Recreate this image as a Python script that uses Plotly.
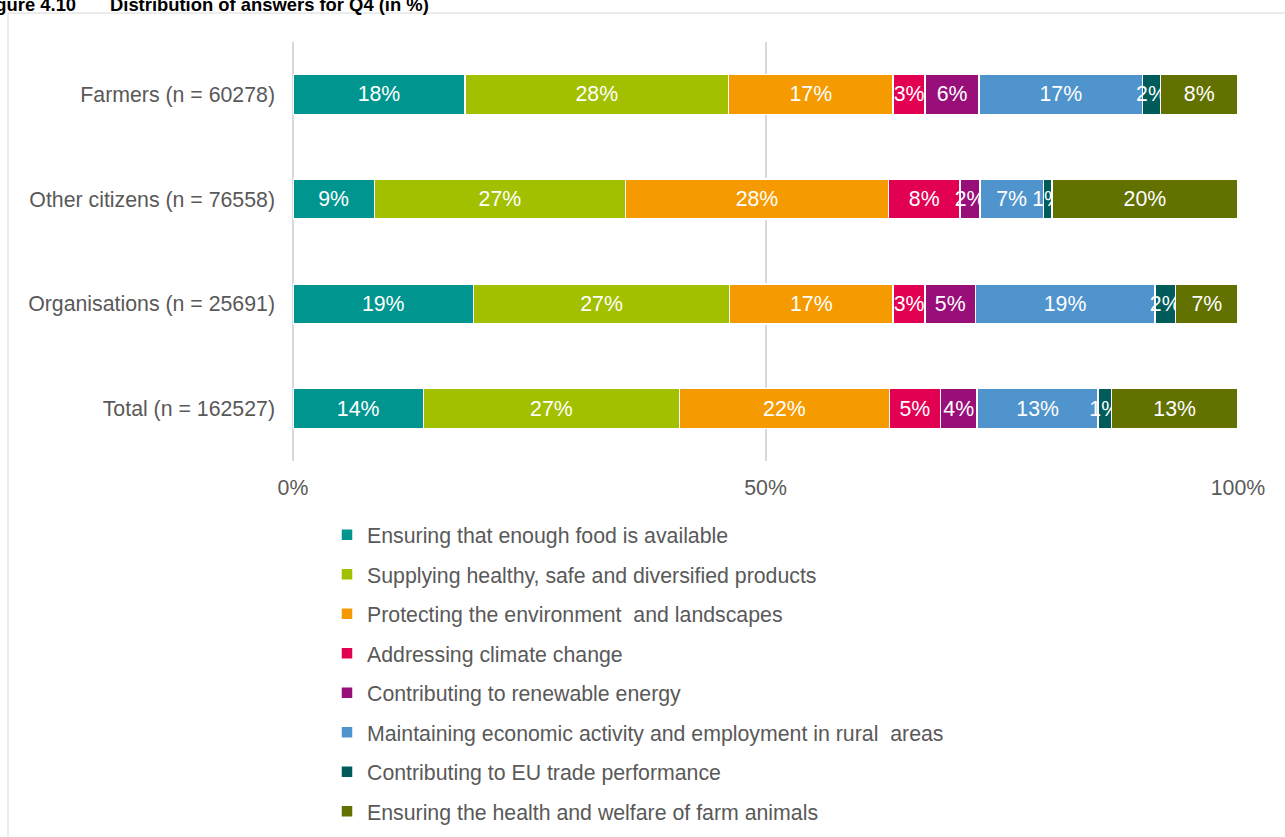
import plotly.graph_objects as go

# ─────────────────────────────────────────────────────────────────────────────
# DATA (share of answers, %)
# ─────────────────────────────────────────────────────────────────────────────

groups = [
    "Farmers (n = 60278)",
    "Other citizens (n = 76558)",
    "Organisations (n = 25691)",
    "Total (n = 162527)",
]

answers = [
    "Ensuring that enough food is available",
    "Supplying healthy, safe and diversified products",
    "Protecting the environment  and landscapes",
    "Addressing climate change",
    "Contributing to renewable energy",
    "Maintaining economic activity and employment in rural  areas",
    "Contributing to EU trade performance",
    "Ensuring the health and welfare of farm animals",
]

food_available  = [18.2, 8.6, 19.1, 13.8]
healthy_safe    = [27.9, 26.6, 27.1, 27.1]
environment     = [17.4, 27.8, 17.3, 22.2]
climate_change  = [3.4, 7.6, 3.4, 5.4]
renewable       = [5.7, 2.1, 5.3, 3.9]
rural_economy   = [17.3, 6.7, 19.0, 12.8]
eu_trade        = [1.9, 0.9, 2.2, 1.4]
animal_welfare  = [8.2, 19.7, 6.6, 13.4]

x_ticks = [0, 50, 100]
x_ticktext = ["0%", "50%", "100%"]

series = [food_available, healthy_safe, environment, climate_change,
          renewable, rural_economy, eu_trade, animal_welfare]

colors = ["#00968F", "#A2C000", "#F59A00", "#E20052",
          "#990F7A", "#4F94CC", "#005C5A", "#627100"]

FONT = "Liberation Sans, Arial, sans-serif"
GREY = "#595959"
FS = 21.3

# plot area in pixels (used only to place the frame / title / legend)
L, R, T, B = 293, 47, 42, 375.5
W, H = 1285, 837
pw, ph = W - L - R, H - T - B


def px_x(x):
    return (x - L) / pw


def px_y(y):
    return (H - B - y) / ph


fig = go.Figure()
for name, vals, col in zip(answers, series, colors):
    fig.add_trace(go.Bar(
        y=groups, x=vals, name=name, orientation="h",
        marker=dict(color=col, line=dict(color="white", width=1.5)),
        texttemplate="%{x:.0f}%", textposition="inside",
        insidetextanchor="middle", textangle=0, constraintext="none",
        textfont=dict(color="white", size=FS, family=FONT),
        legendgroup=name, width=0.38,
        hoverinfo="skip",
    ))

fig.update_layout(
    width=W, height=H,
    barmode="stack",
    plot_bgcolor="white", paper_bgcolor="white",
    margin=dict(l=L, r=R, t=T, b=B, autoexpand=False),
    font=dict(family=FONT, size=FS, color=GREY),
    showlegend=True,
    legend=dict(
        x=px_x(327), xanchor="left", y=px_y(515), yanchor="top",
        traceorder="grouped", tracegroupgap=8.8,
        font=dict(size=FS, color=GREY, family=FONT),
        bgcolor="rgba(0,0,0,0)",
    ),
    xaxis=dict(
        range=[0, 100], tickvals=x_ticks, ticktext=x_ticktext,
        showgrid=True, gridcolor="#D9D9D9", gridwidth=2,
        zeroline=True, zerolinecolor="#D9D9D9", zerolinewidth=2,
        showline=False, ticks="", ticklabelstandoff=12,
        tickfont=dict(size=FS, color=GREY),
    ),
    yaxis=dict(
        autorange="reversed", showgrid=False, zeroline=False,
        ticks="", ticklabelstandoff=17,
        tickfont=dict(size=FS, color=GREY),
    ),
)

# outer frame of the figure box
fig.add_shape(
    type="rect", xref="paper", yref="paper",
    x0=px_x(8), x1=px_x(1300), y0=px_y(13), y1=px_y(900),
    line=dict(color="#D9D9D9", width=1), layer="below",
)

# figure caption (cut off at top-left, as in the source)
fig.add_annotation(
    text="<b>Figure 4.10</b>", xref="paper", yref="paper",
    x=px_x(78), xanchor="right", y=px_y(4.3), yanchor="middle",
    showarrow=False, font=dict(size=18.4, color="black", family=FONT),
)
fig.add_annotation(
    text="<b>Distribution of answers for Q4 (in %)</b>", xref="paper", yref="paper",
    x=px_x(108), xanchor="left", y=px_y(4.3), yanchor="middle",
    showarrow=False, font=dict(size=18.4, color="black", family=FONT),
)

fig.write_html(
    "out.html",
    config={"displayModeBar": False},
    post_script="document.body.style.margin='0';",
)
